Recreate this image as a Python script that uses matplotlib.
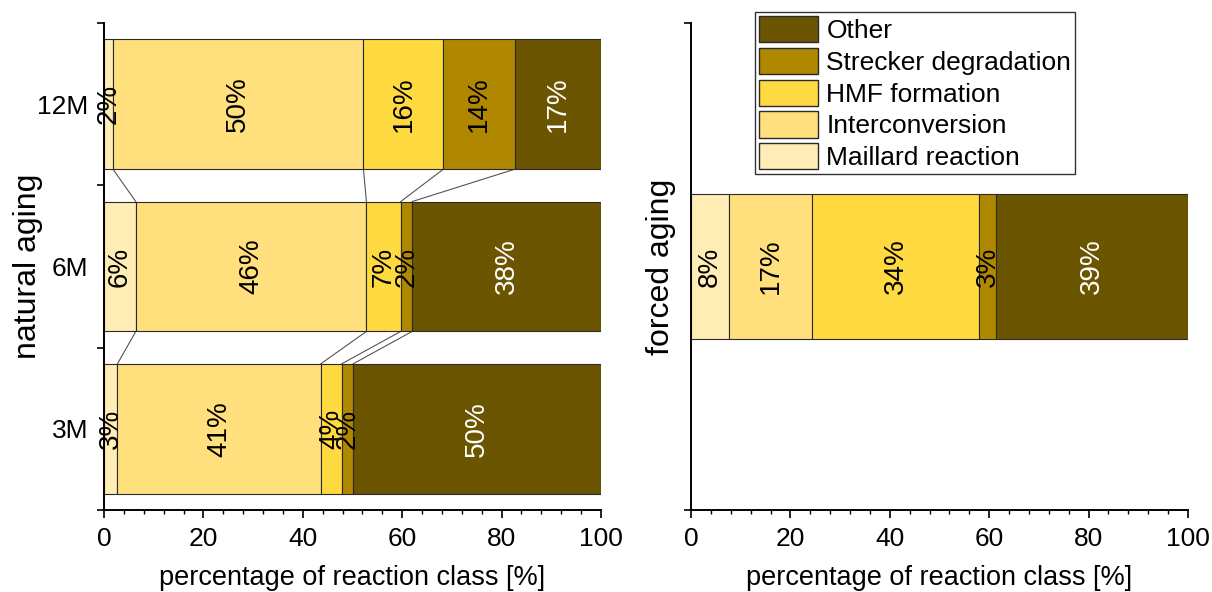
import matplotlib
matplotlib.use("Agg")
import matplotlib.pyplot as plt
from matplotlib.patches import Patch
from matplotlib.ticker import MultipleLocator

plt.rcParams['font.family'] = ['Liberation Sans', 'DejaVu Sans']

# reaction classes, in stacking order from left to right
classes = ["Maillard reaction", "Interconversion", "HMF formation",
           "Strecker degradation", "Other"]
colors = ["#FFEDB5", "#FFE07C", "#FFD940", "#B08800", "#6B5500"]
text_colors = ["black", "black", "black", "black", "white"]

# natural aging (shares in %)
natural_labels = ["3M", "6M", "12M"]
natural_3m = [2.7, 40.9, 4.2, 2.3, 49.9]
natural_6m = [6.4, 46.4, 6.9, 2.3, 38.0]
natural_12m = [1.8, 50.4, 16.1, 14.4, 17.3]

# forced aging (shares in %)
forced_values = [7.6, 16.8, 33.6, 3.4, 38.6]

FS = 19       # tick labels, legend
FS_BAR = 20   # percentages inside the bars
FS_X = 19.5   # x axis titles
FS_Y = 23     # y axis titles

W, H = 1212, 592
fig = plt.figure(figsize=(W / 100, H / 100), dpi=100)
ax1 = fig.add_axes([104 / W, 1 - 510 / H, 497 / W, 487 / H])
ax2 = fig.add_axes([691 / W, 1 - 510 / H, 497 / W, 487 / H])


def stacked_bar(ax, y, values, height):
    left = 0.0
    edges = [0.0]
    for v, c, tc in zip(values, colors, text_colors):
        ax.barh(y, v, left=left, height=height, color=c,
                edgecolor="#2a2a2a", linewidth=0.8, zorder=2)
        ax.text(left + v / 2, y, f"{v:.0f}%", rotation=90, ha="center",
                va="center", fontsize=FS_BAR, color=tc, zorder=3)
        left += v
        edges.append(left)
    return edges


bar_h = 0.8
rows = [natural_3m, natural_6m, natural_12m]
all_edges = [stacked_bar(ax1, i, vals, bar_h) for i, vals in enumerate(rows)]

# connector lines between the class boundaries of neighbouring bars
for i in range(len(rows) - 1):
    lo, hi = all_edges[i], all_edges[i + 1]
    for a, b in zip(lo[1:-1], hi[1:-1]):
        ax1.plot([a, b], [i + bar_h / 2, i + 1 - bar_h / 2],
                 color="#555555", linewidth=0.8, zorder=1)

ax1.set_ylim(-0.5, 2.5)
ax1.set_yticks(range(3))
ax1.set_yticklabels(natural_labels)
ax1.set_yticks([-0.5, 0.5, 1.5, 2.5], minor=True)
ax1.tick_params(axis="y", which="major", length=0, pad=11.5, labelsize=FS)
ax1.tick_params(axis="y", which="minor", length=5, width=1.2, direction="out")
ax1.set_ylabel("natural aging", fontsize=FS_Y)
ax1.yaxis.set_label_coords(-0.123, 0.5)

stacked_bar(ax2, 0, forced_values, 0.298)
ax2.set_ylim(-0.5, 0.5)
ax2.set_yticks([-0.5, 0.5])
ax2.set_yticklabels([])
ax2.tick_params(axis="y", length=5, width=1.2, direction="out")
ax2.set_ylabel("forced aging", fontsize=FS_Y)
ax2.yaxis.set_label_coords(-0.030, 0.5)

for ax in (ax1, ax2):
    ax.set_xlim(0, 100)
    ax.xaxis.set_major_locator(MultipleLocator(20))
    ax.xaxis.set_minor_locator(MultipleLocator(4))
    ax.tick_params(axis="x", which="major", length=6, width=1.2,
                   direction="out", labelsize=FS, pad=6)
    ax.tick_params(axis="x", which="minor", length=3, width=1.0,
                   direction="out")
    ax.set_xlabel("percentage of reaction class [%]", fontsize=FS_X,
                  labelpad=10)
    for s in ("top", "right"):
        ax.spines[s].set_visible(False)
    for s in ("left", "bottom"):
        ax.spines[s].set_linewidth(1.4)

handles = [Patch(facecolor=c, edgecolor="#2a2a2a", linewidth=1.0, label=l)
           for c, l in zip(colors, classes)][::-1]
fig.legend(handles=handles, loc="upper left",
           bbox_to_anchor=(755 / W, 1 - 12 / H), fontsize=FS,
           frameon=True, fancybox=False, framealpha=1, edgecolor="#333333",
           handlelength=2.25, handleheight=1.15, handletextpad=0.3,
           labelspacing=0.18, borderpad=0.15, borderaxespad=0)

fig.savefig("out.png", dpi=100, facecolor="white")
